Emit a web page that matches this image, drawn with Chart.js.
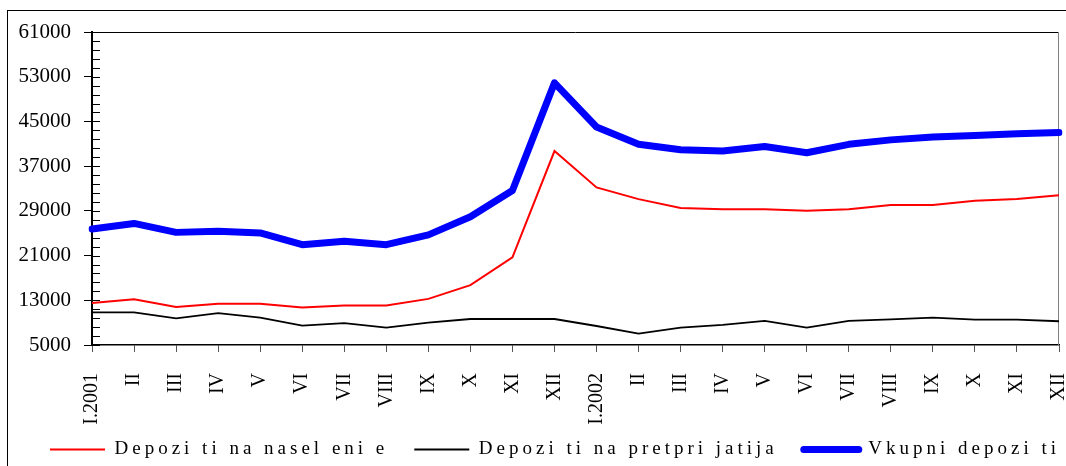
<!DOCTYPE html>
<html>
<head>
<meta charset="utf-8">
<script src="https://cdn.jsdelivr.net/npm/chart.js@4.4.1/dist/chart.umd.min.js"></script>
<style>
  html, body { margin: 0; padding: 0; background: #fff; }
  #wrap { width: 1066px; height: 466px; position: relative; }
</style>
</head>
<body>
<div id="wrap"><canvas id="grafic"></canvas></div>
<script>
// mesecite, po godini
const meseci = ['I.2001', 'II', 'III', 'IV', 'V', 'VI', 'VII', 'VIII', 'IX', 'X', 'XI', 'XII',
                'I.2002', 'II', 'III', 'IV', 'V', 'VI', 'VII', 'VIII', 'IX', 'X', 'XI', 'XII'];

const naselenie = [12500, 13200, 11800, 12400, 12400, 11700, 12050, 12050, 13250, 15700, 20700, 39700,
                   33200, 31100, 29500, 29300, 29300, 29000, 29300, 30050, 30050, 30800, 31100, 31800];

const pretprijatija = [10850, 10850, 9770, 10700, 9900, 8450, 8900, 8100, 9000, 9650, 9650, 9650,
                       8400, 7050, 8100, 8600, 9300, 8100, 9300, 9600, 9900, 9550, 9550, 9250];

const vkupni = [25750, 26750, 25150, 25350, 25050, 22950, 23550, 22950, 24700, 27950, 32650, 51900,
                44000, 40900, 39950, 39700, 40500, 39400, 40900, 41700, 42200, 42500, 42800, 43000];

const yMin = 5000, yMax = 61000, yStep = 8000, yMinorStep = 1600;

const FONT = "'Liberation Serif', 'Times New Roman', serif";
const PLOT_BOTTOM = 345;
const LEGEND_SPACING = '4px';
const LEGEND_H = 40;     // visina na kutijata za legendata
const LEGEND_UP = 12;    // tekstot se crta malku povisoko
const LEGEND_DX = 17;
const LEGEND_EXTRA = 60; // da ne se prekrshi vo dva reda

// legendata ima razmaknati bukvi
const spacedLegend = {
  id: 'spacedLegend',
  beforeUpdate(chart) {
    const lg = chart.legend;
    if (!lg || lg._spaced) return;
    lg._spaced = true;
    const fit = lg.fit.bind(lg);
    const draw = lg.draw.bind(lg);
    lg.fit = function () {
      this.maxWidth += LEGEND_EXTRA;
      chart.ctx.letterSpacing = LEGEND_SPACING;
      fit();
      chart.ctx.letterSpacing = '0px';
      this.height = LEGEND_H;
    };
    lg.draw = function () {
      const t = this.top, l = this.left, r = this.right;
      this.top = t - LEGEND_UP;
      this.left = l + LEGEND_DX;
      this.right = r + LEGEND_EXTRA;
      chart.ctx.letterSpacing = LEGEND_SPACING;
      draw();
      chart.ctx.letterSpacing = '0px';
      this.top = t;
      this.left = l;
      this.right = r;
    };
  }
};

// ramka, gorna i desna linija, mali crticki na y oskata
const ramka = {
  id: 'ramka',
  beforeDraw(chart) {
    const ctx = chart.ctx;
    ctx.save();
    ctx.strokeStyle = '#000';
    ctx.lineWidth = 1;
    ctx.strokeRect(7.5, 10.5, 1100, 500);
    ctx.restore();
  },
  beforeDatasetsDraw(chart) {
    const { ctx, chartArea: a, scales } = chart;
    ctx.save();
    ctx.lineWidth = 1;
    ctx.strokeStyle = '#000';
    ctx.beginPath();
    ctx.moveTo(a.left, a.top + 0.5);
    ctx.lineTo(a.right, a.top + 0.5);
    ctx.stroke();
    ctx.strokeStyle = '#808080';
    ctx.beginPath();
    ctx.moveTo(a.right - 0.5, a.top);
    ctx.lineTo(a.right - 0.5, a.bottom);
    ctx.stroke();
    ctx.strokeStyle = '#000';
    ctx.beginPath();
    for (let v = yMin; v <= yMax; v += yMinorStep) {
      const y = Math.round(scales.y.getPixelForValue(v)) + 0.5;
      ctx.moveTo(a.left, y);
      ctx.lineTo(a.left + 8, y);
    }
    ctx.stroke();
    ctx.restore();
  }
};

new Chart(document.getElementById('grafic'), {
  type: 'line',
  data: {
    labels: meseci,
    datasets: [
      { label: 'Depozi ti na nasel eni e', data: naselenie, borderColor: '#ff0000', borderWidth: 2 },
      { label: 'Depozi ti na pretpri jatija', data: pretprijatija, borderColor: '#000000', borderWidth: 1.8 },
      { label: 'Vkupni depozi ti', data: vkupni, borderColor: '#0000ff', borderWidth: 7,
        borderCapStyle: 'round', borderJoinStyle: 'round' }
    ]
  },
  options: {
    responsive: true,
    maintainAspectRatio: false,
    animation: false,
    elements: { point: { radius: 0 }, line: { tension: 0, fill: false } },
    layout: { padding: { left: 7, right: 7, top: 32, bottom: 0 } },
    plugins: {
      tooltip: { enabled: false },
      legend: {
        position: 'bottom',
        align: 'start',
        labels: {
          usePointStyle: true,
          pointStyle: 'line',
          pointStyleWidth: 55,
          boxHeight: 18,
          padding: 26,
          color: '#000',
          font: { family: FONT, size: 19 },
          generateLabels(chart) {
            const items = Chart.defaults.plugins.legend.labels.generateLabels(chart);
            items.forEach(it => {
              it.lineCap = chart.data.datasets[it.datasetIndex].borderCapStyle || 'butt';
            });
            return items;
          }
        }
      }
    },
    scales: {
      x: {
        offset: false,
        border: { color: '#000', width: 1.5 },
        grid: { drawOnChartArea: false, tickLength: 7, color: '#555' },
        ticks: {
          autoSkip: false, minRotation: 90, maxRotation: 90, padding: 21,
          color: '#000', font: { family: FONT, size: 20 }
        },
        afterFit(s) {
          s.paddingLeft = 0;
          s.paddingRight = 0;
          s.height = s.chart.height - s.chart.legend.height - PLOT_BOTTOM;
        }
      },
      y: {
        min: yMin, max: yMax,
        border: { color: '#000', width: 2 },
        grid: { drawOnChartArea: false, tickLength: 8, color: '#000' },
        ticks: {
          stepSize: yStep, padding: 13, color: '#000',
          font: { family: FONT, size: 21 },
          callback: v => String(v)
        },
        afterFit(s) { s.width = 85; }
      }
    }
  },
  plugins: [spacedLegend, ramka]
});
</script>
</body>
</html>
